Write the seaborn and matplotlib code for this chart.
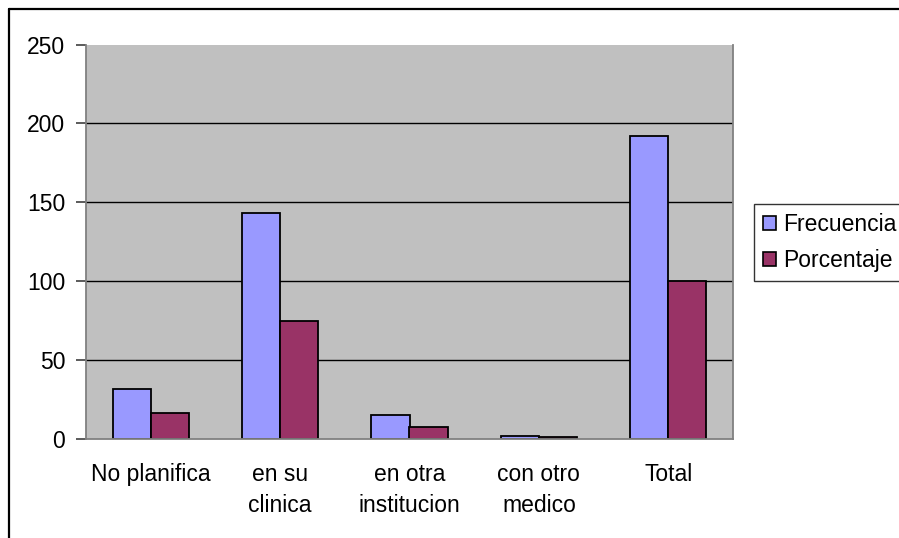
import matplotlib
matplotlib.use("Agg")
import matplotlib.pyplot as plt
from matplotlib.lines import Line2D
from matplotlib.patches import Patch
import seaborn as sns
import pandas as pd
import numpy as np

categories = ["No planifica", "en su\nclinica", "en otra\ninstitucion", "con otro\nmedico", "Total"]
frecuencia = [32, 143, 15, 2, 192]
porcentaje = [16.7, 74.5, 7.8, 1.0, 100]
series_names = ["Frecuencia", "Porcentaje"]
y_ticks = [0, 50, 100, 150, 200, 250]

df = pd.DataFrame({
    "categoria": categories * 2,
    "serie": [series_names[0]] * len(categories) + [series_names[1]] * len(categories),
    "valor": frecuencia + porcentaje,
})

sns.set_theme(style="white")
plt.rcParams["font.family"] = ["Liberation Sans", "DejaVu Sans"]
plt.rcParams["text.color"] = "black"
plt.rcParams["xtick.labelcolor"] = "black"
plt.rcParams["ytick.labelcolor"] = "black"

W, H = 899, 538
FS = 16.5
fig = plt.figure(figsize=(W / 100, H / 100), dpi=100)
ax = fig.add_axes([86 / W, (H - 439) / H, 647 / W, 394.5 / H])

colors = ["#9999FF", "#993366"]
sns.barplot(data=df, x="categoria", y="valor", hue="serie", palette=colors,
            width=0.588, edgecolor="black", linewidth=1.3, ax=ax, legend=False,
            saturation=1)

ax.set_facecolor("#C0C0C0")
ax.set_xlim(-0.5, len(categories) - 0.5)
ax.set_ylim(0, 250)
ax.set_yticks(y_ticks)
ax.set_yticklabels([str(t) for t in y_ticks], fontsize=FS, color="black")
for t in y_ticks[1:-1]:
    ax.axhline(t, color="black", linewidth=1.0, zorder=0.5)

ax.set_xticks(range(len(categories)))
ax.set_xticklabels(categories, fontsize=FS, linespacing=1.45, va="top", color="black")
ax.set_xticks(np.arange(-0.5, len(categories) + 0.5, 1), minor=True)
ax.tick_params(axis="x", which="major", length=0, pad=17)
ax.tick_params(axis="x", which="minor", length=6, width=1.2, color="#606060", direction="out")
ax.tick_params(axis="y", which="major", length=7, width=1.2, color="#404040", direction="out",
               pad=8, left=True)
ax.set_xlabel("")
ax.set_ylabel("")

for side in ["left", "bottom", "right"]:
    ax.spines[side].set_visible(True)
    ax.spines[side].set_color("#808080")
    ax.spines[side].set_linewidth(1.3)
ax.spines["top"].set_visible(False)

handles = [Patch(facecolor=c, edgecolor="black", linewidth=1.2) for c in colors]
leg = fig.legend(handles, series_names, loc="upper left",
                 bbox_to_anchor=(754 / W, 1 - 204 / H),
                 fontsize=FS, frameon=True, fancybox=False,
                 handlelength=0.55, handleheight=0.55, handletextpad=0.3,
                 borderpad=0.4, labelspacing=0.55, borderaxespad=0,
                 labelcolor="black")
leg.get_frame().set_edgecolor("black")
leg.get_frame().set_linewidth(1.0)

# outer frame lines (left and top)
fig.add_artist(Line2D([8.5 / W, 8.5 / W], [0, 1 - 9 / H], color="black",
                      linewidth=1.6, transform=fig.transFigure))
fig.add_artist(Line2D([8.5 / W, 1], [1 - 9 / H, 1 - 9 / H], color="black",
                      linewidth=1.6, transform=fig.transFigure))

fig.savefig("out.png", dpi=100, facecolor="white")
